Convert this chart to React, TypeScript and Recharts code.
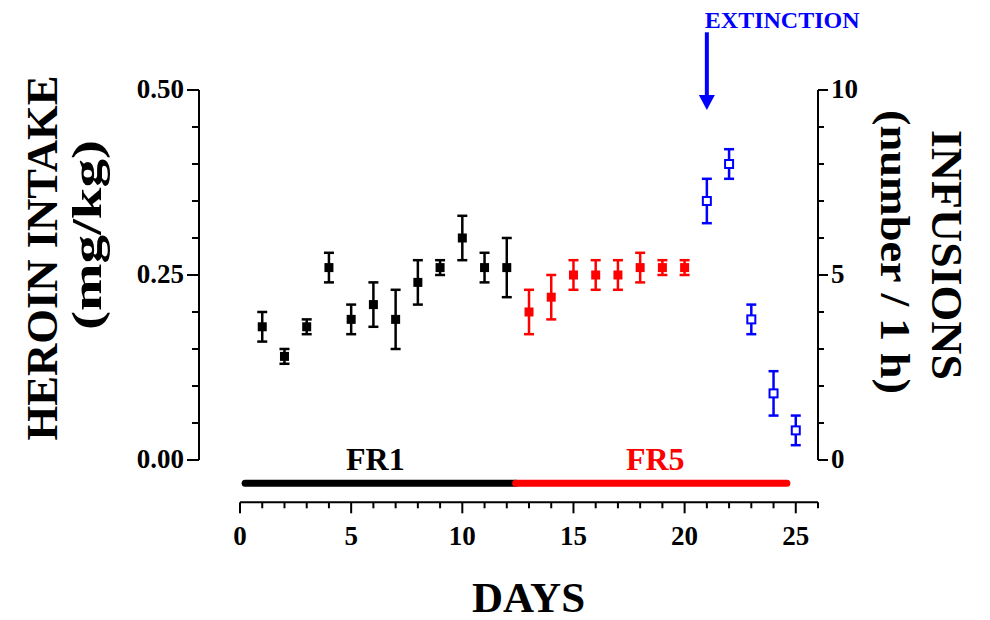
import React from 'react';
import { ScatterChart, Scatter, ErrorBar, XAxis, YAxis, ReferenceLine, ReferenceDot } from 'recharts';

const FONT = '"Liberation Serif", "Times New Roman", serif';
const BLACK = '#000000';
const RED = '#ff0000';
const BLUE = '#0000ff';

// FR1 sessions
const fr1Days = [1, 2, 3, 4, 5, 6, 7, 8, 9, 10, 11, 12];
const fr1Intake = [0.18, 0.14, 0.18, 0.26, 0.19, 0.21, 0.19, 0.24, 0.26, 0.3, 0.26, 0.26];
const fr1Sem = [0.02, 0.01, 0.01, 0.02, 0.02, 0.03, 0.04, 0.03, 0.01, 0.03, 0.02, 0.04];

// FR5 sessions
const fr5Days = [13, 14, 15, 16, 17, 18, 19, 20];
const fr5Intake = [0.2, 0.22, 0.25, 0.25, 0.25, 0.26, 0.26, 0.26];
const fr5Sem = [0.03, 0.03, 0.02, 0.02, 0.02, 0.02, 0.01, 0.01];

// extinction sessions
const extDays = [21, 22, 23, 24, 25];
const extIntake = [0.35, 0.4, 0.19, 0.09, 0.04];
const extSem = [0.03, 0.02, 0.02, 0.03, 0.02];

const dayTicks = [0, 1, 2, 3, 4, 5, 6, 7, 8, 9, 10, 11, 12, 13, 14, 15, 16, 17, 18, 19, 20, 21, 22, 23, 24, 25, 26];
const intakeTicks = [0, 0.05, 0.1, 0.15, 0.2, 0.25, 0.3, 0.35, 0.4, 0.45, 0.5];
const infusionTicks = [0, 1, 2, 3, 4, 5, 6, 7, 8, 9, 10];

const X_DOMAIN = [-1.845, 26];
const LEFT_DOMAIN = [-0.0572, 0.5];
const RIGHT_DOMAIN = [-1.143, 10];

const toRows = (days: number[], vals: number[], sem: number[]) =>
  days.map((d, i) => ({ day: d, intake: vals[i], sem: sem[i] }));

const fr1 = toRows(fr1Days, fr1Intake, fr1Sem);
const fr5 = toRows(fr5Days, fr5Intake, fr5Sem);
const ext = toRows(extDays, extIntake, extSem);

const tickText = { fontFamily: FONT, fontWeight: 'bold' as const, fontSize: 27, fill: BLACK };

const XTick = (p: any) => {
  const v = p.payload.value;
  const major = v % 5 === 0;
  return (
    <g>
      <line x1={p.x} y1={p.y} x2={p.x} y2={p.y + (major ? 11 : 6)} stroke={BLACK} strokeWidth={2} />
      {major && (
        <text x={p.x} y={p.y + 43} textAnchor="middle" {...tickText}>
          {v}
        </text>
      )}
    </g>
  );
};

const LeftTick = (p: any) => {
  const v = p.payload.value;
  const major = Math.abs(v * 4 - Math.round(v * 4)) < 1e-6;
  return (
    <g>
      <line x1={p.x} y1={p.y} x2={p.x - (major ? 12 : 7)} y2={p.y} stroke={BLACK} strokeWidth={2} />
      {major && (
        <text x={p.x - 15} y={p.y + 8} textAnchor="end" {...tickText}>
          {v.toFixed(2)}
        </text>
      )}
    </g>
  );
};

const RightTick = (p: any) => {
  const v = p.payload.value;
  const major = v % 5 === 0;
  return (
    <g>
      <line x1={p.x} y1={p.y} x2={p.x + (major ? 10 : 6)} y2={p.y} stroke={BLACK} strokeWidth={2} />
      {major && (
        <text x={p.x + 13} y={p.y + 8} textAnchor="start" {...tickText}>
          {v}
        </text>
      )}
    </g>
  );
};

const filledSquare = (color: string) => (p: any) => (
  <rect x={p.cx - 4.5} y={p.cy - 4.5} width={9} height={9} fill={color} />
);

const hollowSquare = (p: any) => (
  <rect x={p.cx - 4} y={p.cy - 4} width={8} height={8} fill="#ffffff" stroke={BLUE} strokeWidth={2} />
);

const arrowHead = (p: any) => (
  <path d={`M${p.cx},${p.cy} L${p.cx - 8},${p.cy - 15} L${p.cx + 8},${p.cy - 15} Z`} fill={BLUE} />
);

const titleStyle = { fontFamily: FONT, fontWeight: 'bold' as const, fill: BLACK };

const leftTitle = (props: any) => {
  const vb = props.viewBox;
  return (
    <g>
      <text transform={`translate(${vb.x - 62},${vb.y + 168}) rotate(-90)`} textAnchor="middle" fontSize={44}
        textLength={365} lengthAdjust="spacingAndGlyphs" {...titleStyle}>
        HEROIN INTAKE
      </text>
      <text transform={`translate(${vb.x - 18},${vb.y + 145}) rotate(-90)`} textAnchor="middle" fontSize={42}
        textLength={190} lengthAdjust="spacingAndGlyphs" {...titleStyle}>
        (mg/kg)
      </text>
    </g>
  );
};

const rightTitle = (props: any) => {
  const vb = props.viewBox;
  return (
    <g>
      <text transform={`translate(${vb.x + 114},${vb.y + 165}) rotate(90)`} textAnchor="middle" fontSize={44}
        textLength={250} lengthAdjust="spacingAndGlyphs" {...titleStyle}>
        INFUSIONS
      </text>
      <text transform={`translate(${vb.x + 63},${vb.y + 162}) rotate(90)`} textAnchor="middle" fontSize={42}
        textLength={284} lengthAdjust="spacingAndGlyphs" {...titleStyle}>
        (number / 1 h)
      </text>
    </g>
  );
};

const xTitle = (props: any) => {
  const vb = props.viewBox;
  return (
    <text x={vb.x + vb.width / 2 + 20} y={vb.y + 110} textAnchor="middle" fontSize={43} {...titleStyle}>
      DAYS
    </text>
  );
};

const phaseLabel = (text: string, color: string, dx: number) => (props: any) => {
  const vb = props.viewBox;
  return (
    <text x={vb.x + vb.width / 2 + dx} y={vb.y - 13} textAnchor="middle" fontFamily={FONT}
      fontWeight="bold" fontSize={32} fill={color}>
      {text}
    </text>
  );
};

const extLabel = (props: any) => {
  const vb = props.viewBox;
  return (
    <text x={vb.x - 2} y={vb.y - 4} textAnchor="start" fontFamily={FONT} fontWeight="bold" fontSize={24} fill={BLUE}>
      EXTINCTION
    </text>
  );
};

export default function App() {
  return (
    <div style={{ position: 'absolute', left: 0, top: 0, width: 990, height: 620, background: '#ffffff' }}>
      <ScatterChart width={990} height={620} margin={{ top: 90, right: 92, bottom: 57.7, left: 119 }}>
        <XAxis
          xAxisId={0}
          dataKey="day"
          type="number"
          domain={X_DOMAIN}
          allowDataOverflow
          ticks={dayTicks}
          interval={0}
          axisLine={false}
          tickLine={false}
          tickSize={0}
          tickMargin={0}
          height={60}
          tick={XTick}
          label={xTitle}
        />
        <YAxis
          yAxisId="left"
          dataKey="intake"
          type="number"
          domain={LEFT_DOMAIN}
          allowDataOverflow
          ticks={intakeTicks}
          interval={0}
          axisLine={false}
          tickLine={false}
          tickSize={0}
          tickMargin={0}
          width={80}
          tick={LeftTick}
          label={leftTitle}
        />
        <YAxis
          yAxisId="right"
          orientation="right"
          type="number"
          domain={RIGHT_DOMAIN}
          allowDataOverflow
          ticks={infusionTicks}
          interval={0}
          axisLine={false}
          tickLine={false}
          tickSize={0}
          tickMargin={0}
          width={80}
          tick={RightTick}
          label={rightTitle}
        />

        {/* axis lines */}
        <ReferenceLine yAxisId="left" ifOverflow="visible" segment={[{ x: X_DOMAIN[0], y: 0 }, { x: X_DOMAIN[0], y: 0.5 }]}
          stroke={BLACK} strokeWidth={2} />
        <ReferenceLine yAxisId="right" ifOverflow="visible" segment={[{ x: 26, y: 0 }, { x: 26, y: 10 }]}
          stroke={BLACK} strokeWidth={2} />
        <ReferenceLine yAxisId="left" ifOverflow="visible" segment={[{ x: 0, y: LEFT_DOMAIN[0] }, { x: 26, y: LEFT_DOMAIN[0] }]}
          stroke={BLACK} strokeWidth={2} />

        {/* schedule bars */}
        <ReferenceLine yAxisId="left" ifOverflow="visible" segment={[{ x: 0.23, y: -0.0315 }, { x: 12.4, y: -0.0315 }]}
          stroke={BLACK} strokeWidth={7} strokeLinecap="round" label={phaseLabel('FR1', BLACK, -5)} />
        <ReferenceLine yAxisId="left" ifOverflow="visible" segment={[{ x: 12.4, y: -0.0315 }, { x: 24.6, y: -0.0315 }]}
          stroke={RED} strokeWidth={7} strokeLinecap="round" label={phaseLabel('FR5', RED, 4)} />

        {/* extinction arrow */}
        <ReferenceLine yAxisId="left" ifOverflow="visible" segment={[{ x: 21, y: 0.578 }, { x: 21, y: 0.485 }]}
          stroke={BLUE} strokeWidth={4} label={extLabel} />
        <ReferenceDot yAxisId="left" ifOverflow="visible" x={21} y={0.473} shape={arrowHead} />

        <Scatter yAxisId="left" data={fr1} dataKey="intake" shape={filledSquare(BLACK)} isAnimationActive={false}>
          <ErrorBar dataKey="sem" direction="y" width={5} stroke={BLACK} strokeWidth={2.5} />
        </Scatter>
        <Scatter yAxisId="left" data={fr5} dataKey="intake" shape={filledSquare(RED)} isAnimationActive={false}>
          <ErrorBar dataKey="sem" direction="y" width={5} stroke={RED} strokeWidth={2.5} />
        </Scatter>
        <Scatter yAxisId="left" data={ext} dataKey="intake" shape={hollowSquare} isAnimationActive={false}>
          <ErrorBar dataKey="sem" direction="y" width={5} stroke={BLUE} strokeWidth={2.5} />
        </Scatter>
      </ScatterChart>
    </div>
  );
}
